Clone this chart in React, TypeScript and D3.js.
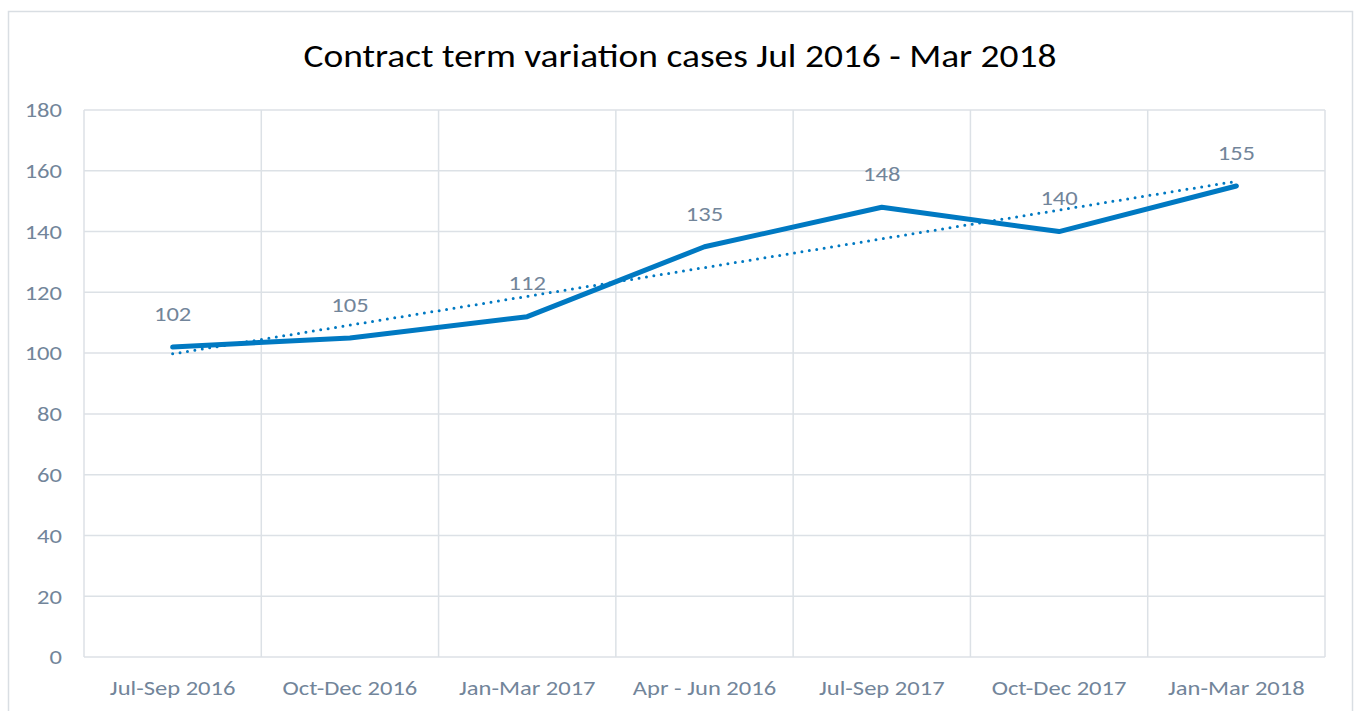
import * as d3 from "d3";

const categories = ["Jul-Sep 2016", "Oct-Dec 2016", "Jan-Mar 2017", "Apr - Jun 2016", "Jul-Sep 2017", "Oct-Dec 2017", "Jan-Mar 2018"];
const cases = [102, 105, 112, 135, 148, 140, 155];
const yTicks = [0, 20, 40, 60, 80, 100, 120, 140, 160, 180];

const W = 1356;
const H = 711;
const margin = { top: 110, right: 31, bottom: 54, left: 84 };
const font = "Carlito, Calibri, Lato, sans-serif";
const textColor = "#72859A";
const gridColor = "#DCE1E6";
const lineColor = "#0079C2";
const stretch = 1.17; // reference text is drawn wide

// linear trendline (least squares over category index)
const xs = cases.map((_, i) => i + 1);
const mx = d3.mean(xs) as number;
const my = d3.mean(cases) as number;
const slope = d3.sum(xs, (x, i) => (x - mx) * (cases[i] - my)) / d3.sum(xs, (x) => (x - mx) ** 2);
const trend = xs.map((x) => my + slope * (x - mx));

const Label = ({ x, y, anchor = "middle", size = 21, fill = textColor, dy = "0.35em", children }: any) => (
    <text transform={`translate(${x},${y}) scale(${stretch},1)`} dy={dy} textAnchor={anchor}
        fontFamily={font} fontSize={size} fill={fill}>{children}</text>
);

const App = () => {
    const x = d3.scaleBand().domain(categories).range([margin.left, W - margin.right]);
    const y = d3.scaleLinear().domain([0, 180]).range([H - margin.bottom, margin.top]);
    const cx = (c: string) => (x(c) as number) + x.bandwidth() / 2;

    const line = d3.line<number>().x((_, i) => cx(categories[i])).y((d) => y(d));

    const bounds = [...categories.map((c) => x(c) as number), W - margin.right];

    return (
        <div style={{ position: "absolute", left: 0, top: 0 }}>
            <svg width={W} height={H} style={{ display: "block", background: "#fff" }}>
                <rect x={8.5} y={11.5} width={1344} height={720} fill="none" stroke="#D9DEE3" strokeWidth={1.5} />
                <Label x={680} y={67} size={32} fill="#000" dy="0">
                    Contract term variation cases Jul 2016 - Mar 2018
                </Label>
                {yTicks.map((t) => (
                    <g key={t}>
                        <line x1={margin.left} x2={W - margin.right} y1={y(t)} y2={y(t)} stroke={gridColor} strokeWidth={1.5} />
                        <Label x={62} y={y(t)} anchor="end">{t}</Label>
                    </g>
                ))}
                {bounds.map((b, i) => (
                    <line key={i} x1={b} x2={b} y1={margin.top} y2={H - margin.bottom} stroke={gridColor} strokeWidth={1.5} />
                ))}
                {categories.map((c) => (
                    <Label key={c} x={cx(c)} y={695} dy="0">{c}</Label>
                ))}
                <path d={line(trend) as string} fill="none" stroke={lineColor} strokeWidth={3} strokeDasharray="0 7.5" strokeLinecap="round" />
                <path d={line(cases) as string} fill="none" stroke={lineColor} strokeWidth={5} strokeLinecap="round" strokeLinejoin="round" />
                {cases.map((v, i) => (
                    <Label key={i} x={cx(categories[i])} y={y(v) - 33.5}>{v}</Label>
                ))}
            </svg>
        </div>
    );
};

export default App;
